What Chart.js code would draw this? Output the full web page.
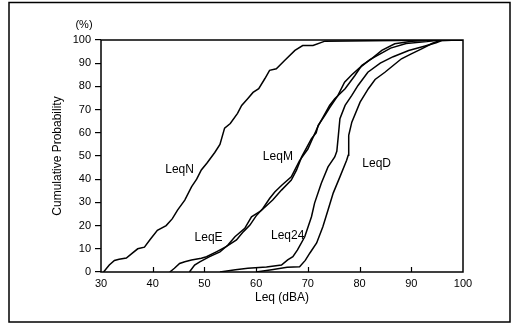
<!DOCTYPE html>
<html>
<head>
<meta charset="utf-8">
<script src="https://cdn.jsdelivr.net/npm/chart.js@4.4.0/dist/chart.umd.min.js"></script>
<style>
  html, body { margin: 0; padding: 0; background: #fff; }
  canvas { display: block; }
</style>
</head>
<body>
<canvas id="c" width="517" height="325"></canvas>
<script>
// Cumulative distributions of equivalent sound level (dBA vs %)
const xTicks = [30, 40, 50, 60, 70, 80, 90, 100];
const yTicks = [0, 10, 20, 30, 40, 50, 60, 70, 80, 90, 100];

const leqN_dB  = [30.5, 31.6, 32.6, 33.5, 34.9, 36.0, 37.1, 38.4, 39.5, 40.9, 42.6, 43.8, 44.8, 46.2, 47.5, 48.5, 49.4, 50.5, 52.0, 53.0, 53.9, 55.0, 56.4, 57.2, 58.4, 59.4, 60.5, 61.7, 62.6, 63.9, 65.5, 67.5, 69.0, 71.0, 73.3, 78.0, 87.0, 96.0, 100];
const leqN_pct = [0, 3, 5, 5.5, 6, 8, 10, 10.7, 14, 18, 20, 23, 26.7, 31, 36.7, 40, 44, 47, 51.5, 55, 62, 64, 68.4, 71.8, 74.8, 77.4, 79, 83.4, 86.9, 87.6, 91.2, 95.5, 97.6, 97.6, 99.5, 99.6, 99.8, 100, 100];

const leqE_dB  = [43.3, 44.2, 45.2, 46.2, 47.5, 49.4, 50.4, 52.3, 54.2, 56.2, 57.5, 58.8, 60.1, 61.3, 62.6, 63.6, 65.0, 66.8, 68.4, 70.0, 71.0, 72.0, 73.0, 74.2, 75.2, 77.2, 79.1, 80.4, 82.3, 84.3, 86.8, 90.1, 95.5, 100];
const leqE_pct = [0, 1.6, 3.7, 4.4, 5.2, 5.9, 6.6, 8.7, 10.9, 13.8, 17.3, 20.2, 24.5, 27.4, 31.7, 34.5, 37.5, 41, 48, 53, 58, 63, 67, 71.8, 74.7, 79, 84.7, 89, 91.9, 95.5, 98.4, 99.5, 100, 100];

const leqM_dB  = [47.1, 48.1, 49.1, 51.0, 53.0, 54.5, 55.9, 57.8, 59.1, 61.0, 63.2, 64.9, 66.8, 67.8, 68.8, 70.7, 71.6, 72.0, 73.3, 74.2, 75.8, 77.1, 78.5, 80.0, 82.0, 84.0, 86.0, 89.0, 93.0, 95.5, 100];
const leqM_pct = [0, 3, 4.4, 6.6, 8.7, 11.5, 15.2, 18.8, 23.8, 26.5, 31, 35.3, 39.6, 43.9, 49.6, 57.5, 60, 63.2, 67.5, 70.8, 76, 81.8, 85, 88, 91.5, 94, 96.5, 98.5, 99.3, 100, 100];

const leq24_dB  = [53.0, 56.0, 58.4, 62.0, 64.9, 66.1, 67.1, 68.0, 69.4, 70.7, 71.3, 72.6, 73.9, 75.2, 75.6, 75.9, 76.2, 77.2, 78.5, 79.7, 81.6, 84.0, 86.5, 89.5, 92.5, 94.8, 95.9, 100];
const leq24_pct = [0, 1, 1.6, 2.2, 3, 5.2, 6.6, 9.5, 15.2, 23.8, 29.7, 38.3, 45.3, 49.6, 52, 58.9, 66.1, 71.8, 76.1, 80.4, 86.1, 90, 92.8, 95.5, 97.3, 98.8, 99.8, 100];

const leqD_dB  = [60.0, 63.0, 66.0, 68.4, 69.5, 70.4, 71.7, 72.9, 73.9, 74.9, 76.2, 77.5, 77.8, 77.9, 78.5, 80.1, 81.7, 83.0, 84.9, 86.5, 88.1, 90.0, 92.0, 94.0, 95.5, 100];
const leqD_pct = [0, 1, 2, 2.3, 5, 8.2, 12.5, 19.5, 26.7, 34, 41, 48.2, 50.3, 58.9, 64.6, 73.2, 79, 83, 86.1, 89, 91.9, 94, 96.2, 98.5, 99.8, 100];

const seriesNames = ['LeqN', 'LeqE', 'LeqM', 'Leq24', 'LeqD'];
// where each curve name is written, in axis units (dBA, %)
const nameAt_dB  = [45.2, 50.8, 64.2, 66.1, 83.3];
const nameAt_pct = [44.3, 15.0, 49.5, 15.5, 46.9];

const FONT = '"Liberation Sans", Arial, Helvetica, sans-serif';

function pairs(xs, ys) { return xs.map((x, i) => ({ x: x, y: ys[i] })); }

function curve(label, xs, ys) {
  return {
    label: label,
    data: pairs(xs, ys),
    showLine: true,
    borderColor: '#000',
    borderWidth: 1.5,
    pointRadius: 0,
    tension: 0,
    fill: false
  };
}

const framePlugin = {
  id: 'frame',
  afterDraw(chart) {
    const ctx = chart.ctx;
    const a = chart.chartArea;
    const xs = chart.scales.x;
    ctx.save();
    ctx.strokeStyle = '#000';
    // outer border
    ctx.lineWidth = 1.5;
    ctx.strokeRect(9, 2.5, 501, 319.5);
    // plot box
    ctx.lineWidth = 1.5;
    ctx.strokeRect(a.left, a.top, a.right - a.left, a.bottom - a.top);
    // x ticks pointing into the plot
    ctx.lineWidth = 1.2;
    xTicks.slice(1, -1).forEach(v => {
      const px = Math.round(xs.getPixelForValue(v)) + 0.5;
      ctx.beginPath();
      ctx.moveTo(px, a.bottom);
      ctx.lineTo(px, a.bottom - 5);
      ctx.stroke();
    });
    // unit mark above the y axis
    ctx.fillStyle = '#000';
    ctx.font = '11px ' + FONT;
    ctx.textAlign = 'center';
    ctx.textBaseline = 'middle';
    ctx.fillText('(%)', 84, 25);
    // curve names
    ctx.font = '12px ' + FONT;
    const ys = chart.scales.y;
    seriesNames.forEach((n, i) => {
      ctx.fillText(n, xs.getPixelForValue(nameAt_dB[i]), ys.getPixelForValue(nameAt_pct[i]));
    });
    ctx.restore();
  }
};

new Chart(document.getElementById('c'), {
  type: 'scatter',
  data: {
    datasets: [
      curve('LeqN', leqN_dB, leqN_pct),
      curve('LeqE', leqE_dB, leqE_pct),
      curve('LeqM', leqM_dB, leqM_pct),
      curve('Leq24', leq24_dB, leq24_pct),
      curve('LeqD', leqD_dB, leqD_pct)
    ]
  },
  options: {
    responsive: false,
    animation: false,
    events: [],
    layout: { padding: { top: 40, right: 54, left: 0, bottom: 0 } },
    plugins: { legend: { display: false }, tooltip: { enabled: false } },
    scales: {
      x: {
        type: 'linear',
        min: 30, max: 100,
        afterBuildTicks(s) { s.ticks = xTicks.map(v => ({ value: v })); },
        afterFit(s) { s.height = 53; },
        border: { display: false },
        grid: { display: false, drawTicks: false, tickLength: 0 },
        ticks: { color: '#000', padding: 5, maxRotation: 0, font: { family: FONT, size: 11 } },
        title: { display: true, text: 'Leq (dBA)', color: '#000', font: { family: FONT, size: 12 }, padding: { top: 0, bottom: 20 } }
      },
      y: {
        type: 'linear',
        min: 0, max: 100,
        afterBuildTicks(s) { s.ticks = yTicks.map(v => ({ value: v })); },
        afterFit(s) { s.width = 101; },
        border: { display: false },
        grid: { drawOnChartArea: false, drawTicks: true, tickLength: 6, color: '#000', lineWidth: 1.2 },
        ticks: { color: '#000', padding: 4, font: { family: FONT, size: 11 } },
        title: { display: true, text: 'Cumulative Probability', color: '#000', font: { family: FONT, size: 12 }, padding: { top: 50, bottom: 0 } }
      }
    }
  },
  plugins: [framePlugin]
});
</script>
</body>
</html>
